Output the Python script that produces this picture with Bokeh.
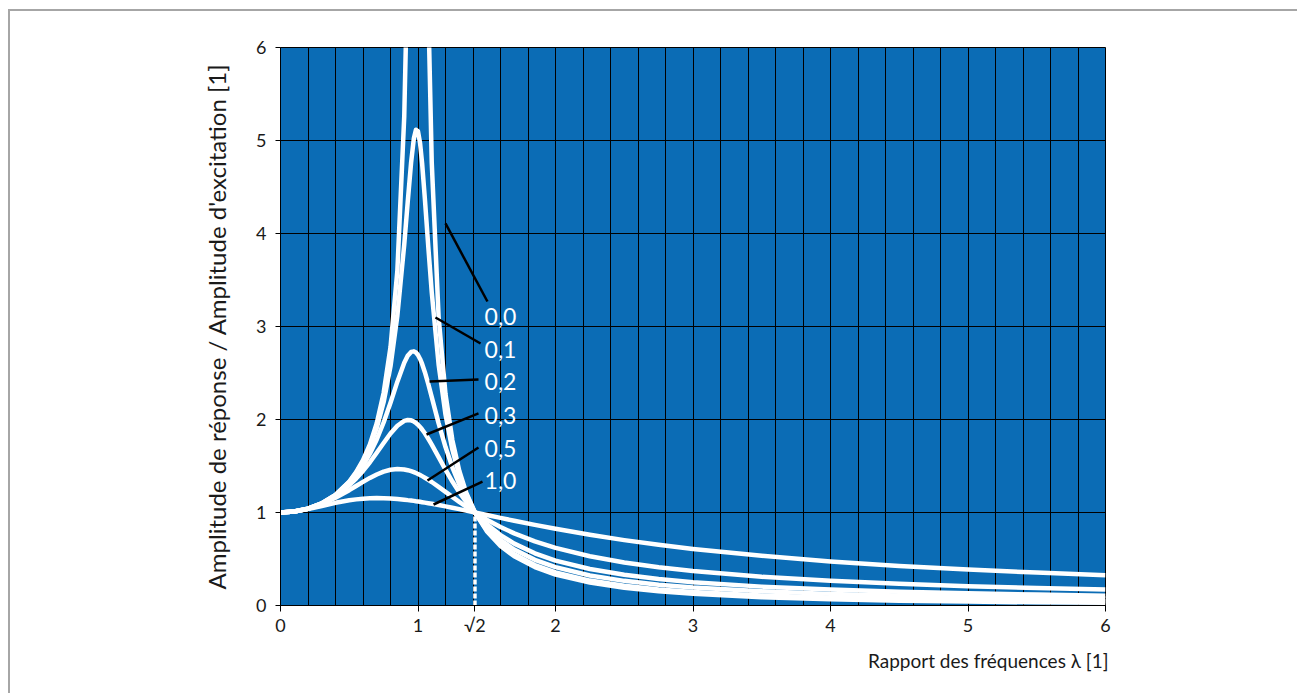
import math

from bokeh.embed import file_html
from bokeh.models import CustomJSTickFormatter, FixedTicker, Label, Range1d, Title
from bokeh.plotting import figure
from bokeh.resources import INLINE

# Frequency ratio lambda = excitation frequency / natural frequency
lam = [0, 0.1, 0.2, 0.3, 0.4, 0.5, 0.55, 0.6, 0.65, 0.7, 0.75, 0.8, 0.85, 0.9,
       0.925, 0.95, 0.97, 0.985, 1.0, 1.015, 1.03, 1.05, 1.075, 1.1, 1.15, 1.2,
       1.25, 1.3, 1.35, 1.414, 1.5, 1.6, 1.7, 1.85, 2.0, 2.25, 2.5, 2.75, 3.0,
       3.5, 4.0, 4.5, 5.0, 5.5, 6.0]

nan = float("nan")

# Amplitude ratio (response / excitation) for each damping ratio
amp_00 = [1.000, 1.010, 1.042, 1.099, 1.190, 1.333, 1.434, 1.563, 1.732, 1.961,
          2.286, 2.778, 3.604, 5.263, 6.926, 10.26, 16.92, 33.59, nan, 33.09,
          16.42, 9.756, 6.426, 4.762, 3.101, 2.273, 1.778, 1.449, 1.216, 1.001,
          0.800, 0.641, 0.529, 0.413, 0.333, 0.246, 0.190, 0.152, 0.125, 0.089,
          0.067, 0.052, 0.042, 0.034, 0.029]
amp_01 = [1.000, 1.010, 1.042, 1.099, 1.189, 1.328, 1.425, 1.547, 1.704, 1.909,
          2.186, 2.571, 3.117, 3.882, 4.334, 4.766, 5.023, 5.116, 5.099, 4.972,
          4.753, 4.373, 3.854, 3.367, 2.590, 2.052, 1.675, 1.401, 1.197, 1.001,
          0.812, 0.659, 0.550, 0.435, 0.356, 0.268, 0.212, 0.173, 0.145, 0.108,
          0.085, 0.070, 0.059, 0.051, 0.045]
amp_02 = [1.000, 1.010, 1.041, 1.097, 1.184, 1.314, 1.400, 1.505, 1.632, 1.785,
          1.968, 2.180, 2.407, 2.611, 2.685, 2.727, 2.733, 2.720, 2.693, 2.651,
          2.597, 2.509, 2.380, 2.241, 1.959, 1.704, 1.486, 1.305, 1.155, 1.001,
          0.841, 0.704, 0.602, 0.491, 0.413, 0.323, 0.265, 0.223, 0.193, 0.152,
          0.125, 0.107, 0.093, 0.082, 0.074]
amp_03 = [1.000, 1.010, 1.041, 1.095, 1.177, 1.293, 1.365, 1.447, 1.540, 1.642,
          1.747, 1.849, 1.933, 1.985, 1.994, 1.991, 1.978, 1.963, 1.944, 1.920,
          1.893, 1.852, 1.793, 1.730, 1.595, 1.460, 1.333, 1.218, 1.115, 1.000,
          0.873, 0.757, 0.665, 0.561, 0.483, 0.392, 0.330, 0.285, 0.251, 0.203,
          0.171, 0.148, 0.131, 0.117, 0.106]
amp_05 = [1.000, 1.010, 1.040, 1.090, 1.158, 1.240, 1.285, 1.329, 1.372, 1.409,
          1.440, 1.460, 1.468, 1.463, 1.455, 1.444, 1.434, 1.424, 1.414, 1.403,
          1.391, 1.374, 1.352, 1.328, 1.276, 1.222, 1.168, 1.114, 1.063, 1.000,
          0.923, 0.844, 0.776, 0.690, 0.620, 0.530, 0.463, 0.411, 0.370, 0.309,
          0.266, 0.233, 0.208, 0.188, 0.171]
amp_10 = [1.000, 1.010, 1.036, 1.070, 1.104, 1.131, 1.141, 1.149, 1.153, 1.155,
          1.154, 1.151, 1.145, 1.138, 1.133, 1.129, 1.125, 1.121, 1.118, 1.115,
          1.111, 1.106, 1.100, 1.094, 1.080, 1.066, 1.051, 1.036, 1.020, 1.000,
          0.973, 0.942, 0.911, 0.867, 0.825, 0.760, 0.703, 0.653, 0.608, 0.534,
          0.474, 0.426, 0.387, 0.354, 0.325]

damping_labels = ["0,0", "0,1", "0,2", "0,3", "0,5", "1,0"]
curves = [amp_00, amp_01, amp_02, amp_03, amp_05, amp_10]

x_ticks = [0, 1, math.sqrt(2), 2, 3, 4, 5, 6]
y_ticks = [0, 1, 2, 3, 4, 5, 6]

# Leader lines (start on curve -> end near label) and label anchors, in data units
leaders = [
    ((1.200, 4.108), (1.505, 3.269)),
    ((1.127, 3.097), (1.455, 2.817)),
    ((1.084, 2.409), (1.440, 2.430)),
    ((1.062, 1.839), (1.440, 2.065)),
    ((1.069, 1.344), (1.440, 1.699)),
    ((1.113, 1.086), (1.469, 1.333)),
]
label_pos = [(1.484, 3.108), (1.484, 2.753), (1.484, 2.409),
             (1.484, 2.043), (1.484, 1.688), (1.484, 1.344)]

BLUE = "#0b6cb5"
INK = "#1a1a1a"
FONT = "Lato"

p = figure(
    width=1289, height=684,
    x_range=Range1d(0, 6), y_range=Range1d(0, 6),
    output_backend="svg", toolbar_location=None,
    min_border_left=270, min_border_right=194,
    min_border_top=36, min_border_bottom=90,
    background_fill_color=BLUE,
)
p.styles = {
    "margin-left": "8px", "margin-top": "9px",
    "border-left": "2px solid #a6a6a6", "border-top": "2px solid #a6a6a6",
}
p.outline_line_color = "black"
p.outline_line_width = 1

# grid: fine vertical lines every 0.2, horizontal at each unit
p.xgrid.ticker = FixedTicker(ticks=[round(i * 0.2, 1) for i in range(31)])
p.ygrid.ticker = FixedTicker(ticks=y_ticks)
for g in (p.xgrid, p.ygrid):
    g.grid_line_color = "black"
    g.grid_line_width = 1
    g.grid_line_alpha = 1.0

# axes
p.xaxis.ticker = FixedTicker(ticks=x_ticks)
p.xaxis.formatter = CustomJSTickFormatter(
    code="return Math.abs(tick - Math.SQRT2) < 1e-6 ? '\u221a2' : tick.toFixed(0);")
p.yaxis.ticker = FixedTicker(ticks=y_ticks)
for ax in (p.xaxis, p.yaxis):
    ax.axis_line_color = "black"
    ax.major_tick_line_color = "black"
    ax.major_tick_in = 0
    ax.minor_tick_line_color = None
    ax.major_label_text_font = FONT
    ax.major_label_text_font_size = "18px"
    ax.major_label_text_color = INK
p.xaxis.major_tick_out = 6
p.xaxis.major_label_standoff = 2
p.yaxis.major_tick_out = 5
p.yaxis.major_label_standoff = 9

p.yaxis.axis_label = "Amplitude de réponse / Amplitude d'excitation [1]"
p.yaxis.axis_label_text_font = FONT
p.yaxis.axis_label_text_font_style = "normal"
p.yaxis.axis_label_text_font_size = "24px"
p.yaxis.axis_label_text_color = INK
p.yaxis.axis_label_standoff = 22

# x-axis title, right-aligned with the end of the axis
p.add_layout(Title(text="Rapport des fréquences λ [1]", align="right",
                   text_font=FONT, text_font_size="19px",
                   text_font_style="normal", text_color=INK,
                   standoff=16, offset=-3), "below")

# resonance curves
for amp in curves:
    p.line(lam, amp, line_color="white", line_width=4.5, line_join="round")

# dashed marker at lambda = sqrt(2) where all curves cross 1
p.segment(x0=[math.sqrt(2)], y0=[0], x1=[math.sqrt(2)], y1=[1],
          line_color="white", line_width=3.5, line_dash="5 2")

# leader lines and damping labels
p.segment(x0=[a[0] for a, b in leaders], y0=[a[1] for a, b in leaders],
          x1=[b[0] for a, b in leaders], y1=[b[1] for a, b in leaders],
          line_color="black", line_width=2.5)
for txt, (lx, ly) in zip(damping_labels, label_pos):
    p.add_layout(Label(x=lx, y=ly, text=txt, text_color="white",
                       text_font=FONT, text_font_size="23px",
                       text_align="left", text_baseline="middle"))

open("out.html", "w").write(file_html(p, INLINE))
